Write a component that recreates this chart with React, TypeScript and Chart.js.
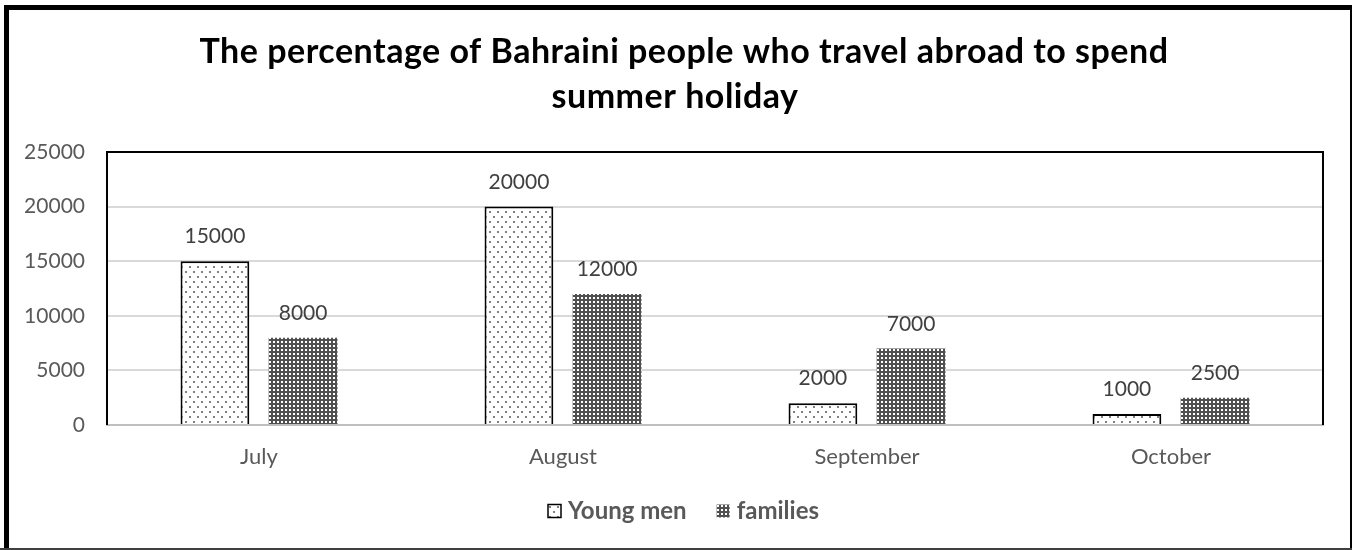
import React, { useEffect, useRef } from "react";
import { Chart, registerables } from "chart.js";

Chart.register(...registerables);

const TITLE_LINES = ["The percentage of Bahraini people who travel abroad to spend", "summer holiday"];
const CATEGORIES = ["July", "August", "September", "October"];
const YOUNG_MEN = [15000, 20000, 2000, 1000];
const FAMILIES = [8000, 12000, 7000, 2500];
const SERIES_NAMES = ["Young men", "families"];
const Y_MAX = 25000;
const Y_STEP = 5000;

const FONT = "Lato, 'Open Sans', sans-serif";

function makeDotPattern(): CanvasPattern | string {
  const c = document.createElement("canvas");
  c.width = 8;
  c.height = 10;
  const x = c.getContext("2d")!;
  x.fillStyle = "#ffffff";
  x.fillRect(0, 0, 8, 10);
  x.fillStyle = "#808080";
  x.fillRect(1, 1, 2, 2);
  x.fillRect(5, 6, 2, 2);
  const p = x.createPattern(c, "repeat");
  return p || "#ffffff";
}

function makeGridPattern(): CanvasPattern | string {
  const c = document.createElement("canvas");
  c.width = 4;
  c.height = 4;
  const x = c.getContext("2d")!;
  x.fillStyle = "#505050";
  x.fillRect(0, 0, 4, 4);
  x.fillStyle = "#ffffff";
  x.fillRect(1, 1, 2, 2);
  const p = x.createPattern(c, "repeat");
  return p || "#555555";
}

export default function App() {
  const ref = useRef<HTMLCanvasElement | null>(null);

  useEffect(() => {
    document.body.style.margin = "0";
    document.body.style.overflow = "hidden";
    const canvas = ref.current;
    if (!canvas) return;
    const dots = makeDotPattern();
    const grid = makeGridPattern();

    const decorations = {
      id: "decorations",
      afterDatasetsDraw(chart: any) {
        const ctx = chart.ctx;
        ctx.save();
        ctx.font = `21px ${FONT}`;
        ctx.fillStyle = "#404040";
        ctx.textAlign = "center";
        ctx.textBaseline = "alphabetic";
        chart.data.datasets.forEach((ds: any, i: number) => {
          const meta = chart.getDatasetMeta(i);
          meta.data.forEach((el: any, j: number) => {
            ctx.fillText(String(ds.data[j]), el.x, el.y - 18);
          });
        });
        ctx.restore();
      },
      afterDraw(chart: any) {
        const ctx = chart.ctx;
        const a = chart.chartArea;
        ctx.save();
        // plot area border
        ctx.strokeStyle = "#000000";
        ctx.lineWidth = 2;
        ctx.beginPath();
        ctx.moveTo(a.left, a.bottom);
        ctx.lineTo(a.left, a.top);
        ctx.lineTo(a.right, a.top);
        ctx.lineTo(a.right, a.bottom);
        ctx.stroke();
        // title
        ctx.fillStyle = "#000000";
        ctx.font = `bold 34px ${FONT}`;
        try { (ctx as any).letterSpacing = "0.5px"; } catch (e) {}
        ctx.textAlign = "center";
        ctx.textBaseline = "alphabetic";
        ctx.fillText(TITLE_LINES[0], 684, 63);
        ctx.fillText(TITLE_LINES[1], 675, 108);
        try { (ctx as any).letterSpacing = "0px"; } catch (e) {}
        // legend
        ctx.font = `bold 24px ${FONT}`;
        ctx.textAlign = "left";
        ctx.textBaseline = "middle";
        const w0 = ctx.measureText(SERIES_NAMES[0]).width;
        const w1 = ctx.measureText(SERIES_NAMES[1]).width;
        const box = 13;
        const gapBoxText = 7;
        const gapItems = 30;
        const total = box + gapBoxText + w0 + gapItems + box + gapBoxText + w1;
        let lx = Math.round(684 - total / 2);
        const ly = 511;
        ctx.fillStyle = dots;
        ctx.fillRect(lx, ly - box / 2, box, box);
        ctx.strokeStyle = "#000";
        ctx.lineWidth = 1.5;
        ctx.strokeRect(lx, ly - box / 2, box, box);
        ctx.fillStyle = "#595959";
        ctx.fillText(SERIES_NAMES[0], lx + box + gapBoxText, ly);
        lx += box + gapBoxText + w0 + gapItems;
        ctx.fillStyle = grid;
        ctx.fillRect(lx, ly - box / 2, box, box);
        ctx.fillStyle = "#595959";
        ctx.fillText(SERIES_NAMES[1], lx + box + gapBoxText, ly);
        // outer frame
        ctx.strokeStyle = "#000000";
        ctx.lineWidth = 5;
        ctx.strokeRect(6.5, 7.5, 1346, 546);
        ctx.fillStyle = "#404040";
        ctx.fillRect(0, 548, 1352, 2);
        ctx.restore();
      },
    };

    const chart = new Chart(canvas, {
      type: "bar",
      data: {
        labels: CATEGORIES,
        datasets: [
          {
            label: SERIES_NAMES[0],
            data: YOUNG_MEN,
            backgroundColor: dots as any,
            borderColor: "#000000",
            borderWidth: 2,
            categoryPercentage: 0.58,
            barPercentage: 0.78,
          },
          {
            label: SERIES_NAMES[1],
            data: FAMILIES,
            backgroundColor: grid as any,
            borderWidth: 0,
            categoryPercentage: 0.58,
            barPercentage: 0.78,
          },
        ],
      },
      options: {
        animation: false,
        responsive: false,
        maintainAspectRatio: false,
        layout: { padding: { top: 152, left: 0, right: 29, bottom: 65 } },
        plugins: {
          legend: { display: false },
          title: { display: false },
          tooltip: { enabled: false },
        },
        scales: {
          x: {
            grid: { display: false, drawTicks: false },
            border: { display: true, color: "#bfbfbf", width: 2 },
            ticks: { color: "#595959", font: { family: FONT, size: 22 }, padding: 19 },
            afterFit: (s: any) => {
              s.height = 60;
            },
          },
          y: {
            min: 0,
            max: Y_MAX,
            grid: { color: "#d9d9d9", lineWidth: 2, drawTicks: false },
            border: { display: false },
            ticks: {
              stepSize: Y_STEP,
              color: "#595959",
              font: { family: FONT, size: 21 },
              padding: 22,
              callback: (v: any) => String(v),
            },
            afterFit: (s: any) => {
              s.width = 107;
            },
          },
        },
      },
      plugins: [decorations],
    });
    return () => chart.destroy();
  }, []);

  return (
    <div style={{ width: 1352, height: 550, background: "#fff" }}>
      <canvas ref={ref} width={1352} height={550} style={{ display: "block" }} />
    </div>
  );
}
